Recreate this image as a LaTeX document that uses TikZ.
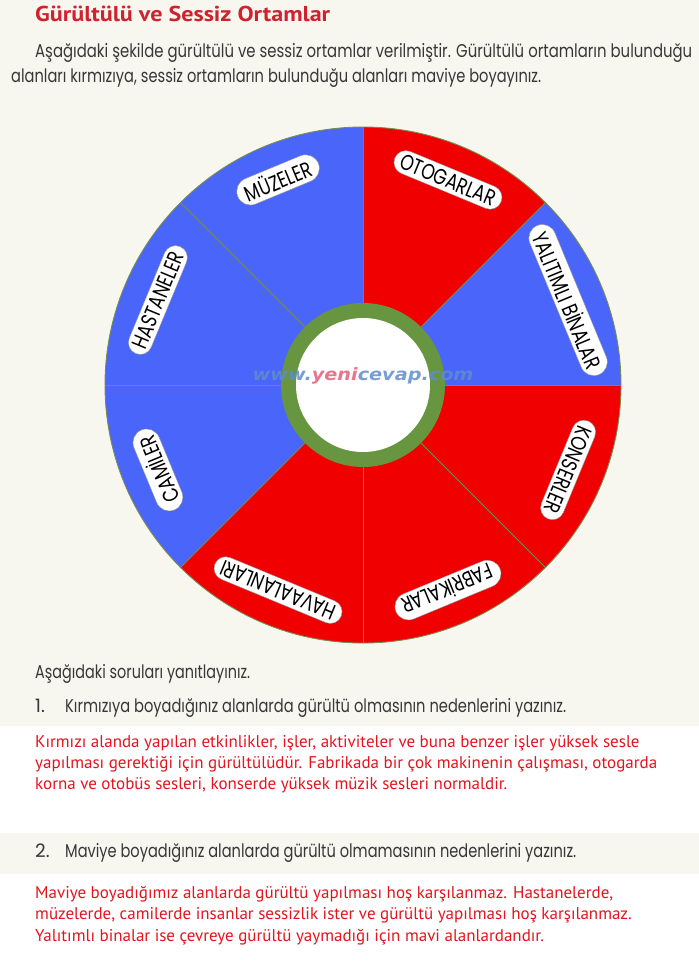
\documentclass[tikz,border=0pt]{standalone}
\usepackage{fontspec}
\usepackage{graphicx}
\setmainfont{PT Sans}
\newfontfamily\handfont{Poppins}
\newfontfamily\tagfont[FakeStretch=0.78]{Poppins}
\newfontfamily\markfont{DejaVu Sans}
\usetikzlibrary{shapes.misc, calc}
\definecolor{cream}{RGB}{247,247,240}
\definecolor{segblue}{RGB}{74,101,250}
\definecolor{segred}{RGB}{240,0,0}
\definecolor{ringgreen}{RGB}{104,150,64}
\definecolor{edgeolive}{RGB}{120,140,80}
\definecolor{titlered}{RGB}{208,33,45}
\definecolor{answerred}{RGB}{228,20,30}
\definecolor{inkgray}{RGB}{55,55,55}
\definecolor{wwwblue}{RGB}{95,140,205}
\definecolor{wwwpink}{RGB}{225,95,120}
% stretch a line to a given width, keep its height
\newcommand{\fitw}[2]{\resizebox{#1}{\height}{#2}}
\tikzset{
  divider/.style={draw=edgeolive, line width=0.9pt},
  tag/.style={rounded rectangle, fill=white, draw=black!40, line width=0.4pt, inner xsep=4pt, inner ysep=4pt, font=\tagfont\fontsize{22}{22}\selectfont},
  headline/.style={anchor=base west, inner sep=0pt, text=titlered, font=\fontsize{21.5}{21.5}\selectfont\bfseries},
  hand/.style={anchor=base west, inner sep=0pt, text=inkgray, font=\handfont\fontsize{18.5}{18.5}\selectfont},
  answer/.style={anchor=base west, inner sep=0pt, text=answerred, font=\fontsize{17}{17}\selectfont}
}
\begin{document}
\begin{tikzpicture}[x=1pt, y=1pt]
  % page and answer bands
  \useasboundingbox (0,0) rectangle (699,-962);
  \fill[cream] (0,0) rectangle (699,-726);
  \fill[white] (0,-726) rectangle (699,-833);
  \fill[cream] (0,-833) rectangle (699,-874);
  \fill[white] (0,-874) rectangle (699,-962);

  % wheel
  \coordinate (c) at (363,-385);
  \fill[segblue] (c) -- ++(90:258) arc[start angle=90, end angle=225, radius=258] -- cycle;
  \fill[segred] (c) -- ++(225:258) arc[start angle=225, end angle=360, radius=258] -- cycle;
  \fill[segblue] (c) -- ++(0:258) arc[start angle=0, end angle=45, radius=258] -- cycle;
  \fill[segred] (c) -- ++(45:258) arc[start angle=45, end angle=90, radius=258] -- cycle;
  \draw[divider] (c) circle[radius=258];
  \foreach \a in {0,45,...,315}
    \draw[divider] ($(c)+(\a:82)$) -- ($(c)+(\a:258)$);
  \fill[ringgreen] (c) circle[radius=82];
  \fill[white] (c) circle[radius=67];
  \node[inner sep=0pt, font=\markfont\bfseries\itshape\fontsize{17}{17}\selectfont, opacity=0.85] (site) at (363,-376)
    {\fitw{221pt}{\textcolor{wwwblue}{www.}\textcolor{wwwpink}{yeni}\textcolor{wwwblue}{cevap.com}}};

  % sector labels
  \node[tag, rotate=22.5] (muzeler) at ($(c)+(112.5:222)$) {MÜZELER};
  \node[tag, rotate=-22.5] (otogarlar) at ($(c)+(67.5:222)$) {OTOGARLAR};
  \node[tag, rotate=-67.5] (yalitimli) at ($(c)+(22.5:222)$) {YALITIMLI BİNALAR};
  \node[tag, rotate=-112.5] (konserler) at ($(c)+(-22.5:222)$) {KONSERLER};
  \node[tag, rotate=-157.5] (fabrikalar) at ($(c)+(-67.5:222)$) {FABRİKALAR};
  \node[tag, rotate=157.5] (havaalanlari) at ($(c)+(-112.5:222)$) {HAVAALANLARI};
  \node[tag, rotate=112.5] (camiler) at ($(c)+(-157.5:222)$) {CAMİLER};
  \node[tag, rotate=67.5] (hastaneler) at ($(c)+(157.5:222)$) {HASTANELER};

  % texts
  \node[headline] (baslik) at (35,-21) {\fitw{295pt}{Gürültülü ve Sessiz Ortamlar}};
  \node[hand] (giris1) at (35,-57) {\fitw{657pt}{Aşağıdaki şekilde gürültülü ve sessiz ortamlar verilmiştir. Gürültülü ortamların bulunduğu}};
  \node[hand] (giris2) at (11,-82) {\fitw{530pt}{alanları kırmızıya, sessiz ortamların bulunduğu alanları maviye boyayınız.}};
  \node[hand] (yonerge) at (35,-678) {\fitw{215pt}{Aşağıdaki soruları yanıtlayınız.}};
  \node[hand] (no1) at (35,-712) {1.};
  \node[hand] (soru1) at (65,-712) {\fitw{501pt}{Kırmızıya boyadığınız alanlarda gürültü olmasının nedenlerini yazınız.}};
  \node[answer] (cevap1a) at (35,-747) {Kırmızı alanda yapılan etkinlikler, işler, aktiviteler ve buna benzer işler yüksek sesle};
  \node[answer] (cevap1b) at (35,-768) {yapılması gerektiği için gürültülüdür. Fabrikada bir çok makinenin çalışması, otogarda};
  \node[answer] (cevap1c) at (35,-789) {korna ve otobüs sesleri, konserde yüksek müzik sesleri normaldir.};
  \node[hand] (no2) at (35,-857) {2.};
  \node[hand] (soru2) at (65,-857) {\fitw{511pt}{Maviye boyadığınız alanlarda gürültü olmamasının nedenlerini yazınız.}};
  \node[answer] (cevap2a) at (35,-898) {Maviye boyadığımız alanlarda gürültü yapılması hoş karşılanmaz. Hastanelerde,};
  \node[answer] (cevap2b) at (35,-919) {müzelerde, camilerde insanlar sessizlik ister ve gürültü yapılması hoş karşılanmaz.};
  \node[answer] (cevap2c) at (35,-941) {Yalıtımlı binalar ise çevreye gürültü yaymadığı için mavi alanlardandır.};
\end{tikzpicture}
\end{document}
